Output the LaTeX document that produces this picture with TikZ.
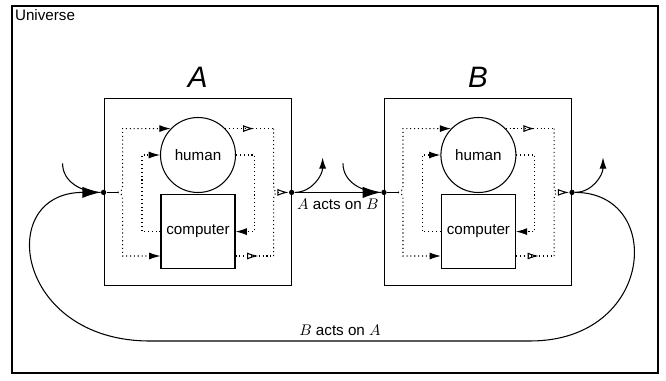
\documentclass[tikz,border=0pt]{standalone}
\usepackage{fontspec}
\setmainfont{Liberation Sans}
\usetikzlibrary{arrows.meta,decorations.markings}

\tikzset{
  every node/.append style={font=\fontsize{10.8}{13}\selectfont},
  line/.style={line width=0.75pt},
  agent/.style={draw=black, line width=0.75pt, minimum size=4.675cm, inner sep=0pt},
  person/.style={shape=circle, draw=black, line width=0.75pt, minimum size=1.875cm, inner sep=0pt},
  machine/.style={draw=black, line width=0.75pt, minimum size=1.85cm, inner sep=0pt},
  bigname/.style={font=\fontsize{21}{25}\selectfont\itshape, anchor=base, inner sep=0pt},
  dot/.style={shape=circle, fill=black, inner sep=0pt, minimum size=3.8pt},
  flow/.style={dotted, line width=0.75pt},
  tofill/.style={-{Latex[length=8pt,width=5pt]}},
  toopen/.style={-{Latex[open,length=8pt,width=5pt]}},
  midopen/.style={postaction={decorate},
    decoration={markings, mark=at position 0.6 with {\arrow{Latex[open,length=8pt,width=5pt]}}}},
  act/.style={line width=0.75pt, -{Latex[length=13pt,width=8pt]}},
  leak/.style={line width=0.75pt, -{Latex[length=8pt,width=5pt]}}
}

\begin{document}
\begin{tikzpicture}
  \useasboundingbox (0,0) rectangle (16.65,-9.525);

  % the universe
  \draw[line] (0.3,-0.15) rectangle (16.45,-9.325);
  \node[anchor=north west, inner sep=2pt] (univ) at (0.3,-0.15) {Universe};

  % the two agents
  \node[agent] (A) at (4.94,-4.81) {};
  \node[agent] (B) at (11.95,-4.81) {};
  \node[bigname] (nameA) at ([yshift=0.28cm]A.north) {A};
  \node[bigname] (nameB) at ([yshift=0.28cm]B.north) {B};

  \node[person] (hA) at (4.95,-3.875) {human};
  \node[machine] (cA) at (4.95,-5.79) {computer};
  \node[person] (hB) at (11.96,-3.875) {human};
  \node[machine] (cB) at (11.96,-5.79) {computer};

  \node[dot] (inA) at (A.west) {};
  \node[dot] (outA) at (A.east) {};
  \node[dot] (inB) at (B.west) {};
  \node[dot] (outB) at (B.east) {};

  % helper points
  \coordinate (lA) at ([xshift=0.35cm]A.west);
  \coordinate (rA) at ([xshift=-0.35cm]A.east);
  \coordinate (vA) at ([xshift=-0.1cm]rA);
  \coordinate (bA) at ([yshift=-0.61cm]cA.east);
  \coordinate (lB) at ([xshift=0.35cm]B.west);
  \coordinate (rB) at ([xshift=-0.35cm]B.east);
  \coordinate (vB) at ([xshift=-0.1cm]rB);
  \coordinate (bB) at ([yshift=-0.61cm]cB.east);

  \coordinate (feedA) at ([shift={(-1.025,0.725)}]A.west);
  \coordinate (leakA) at ([shift={(0.775,0.875)}]A.east);
  \coordinate (feedB) at ([shift={(-1.025,0.725)}]B.west);
  \coordinate (leakB) at ([shift={(0.775,0.875)}]B.east);

  %flows inside A
  \draw[line] (inA) -- (lA);
  \draw[flow,tofill] (lA) to[out=0,in=-90] ([shift={(0.125,0.15)}]lA) |- (hA.136);
  \draw[flow,tofill] (lA) to[out=0,in=90] ([shift={(0.125,-0.15)}]lA) |- ([yshift=-0.61cm]cA.west);
  \draw[flow,midopen] (hA.44) -- (hA.44 -| vA);
  \draw[flow] (hA.44 -| vA) -- ([yshift=0.15cm]vA) to[out=-90,in=180] (rA);
  \draw[flow,midopen] (bA) -- (bA -| vA);
  \draw[flow] (bA -| vA) -- ([yshift=-0.15cm]vA) to[out=90,in=180] (rA);
  \draw[flow,toopen] (rA) -- (outA);
  \draw[flow,tofill] (hA.east) -- ++(0.4625,0) |- (cA.east);
  \draw[flow,tofill] (cA.west) -- ++(-0.4625,0) |- (hA.west);

  %flows inside B
  \draw[line] (inB) -- (lB);
  \draw[flow,tofill] (lB) to[out=0,in=-90] ([shift={(0.125,0.15)}]lB) |- (hB.136);
  \draw[flow,tofill] (lB) to[out=0,in=90] ([shift={(0.125,-0.15)}]lB) |- ([yshift=-0.61cm]cB.west);
  \draw[flow,midopen] (hB.44) -- (hB.44 -| vB);
  \draw[flow] (hB.44 -| vB) -- ([yshift=0.15cm]vB) to[out=-90,in=180] (rB);
  \draw[flow,midopen] (bB) -- (bB -| vB);
  \draw[flow] (bB -| vB) -- ([yshift=-0.15cm]vB) to[out=90,in=180] (rB);
  \draw[flow,toopen] (rB) -- (outB);
  \draw[flow,tofill] (hB.east) -- ++(0.4625,0) |- (cB.east);
  \draw[flow,tofill] (cB.west) -- ++(-0.4625,0) |- (hB.west);

  %in and out of each agent
  \draw[line] (feedA) to[out=-90,in=180] (inA);
  \draw[leak] (outA) to[out=0,in=-90] (leakA);
  \draw[line] (feedB) to[out=-90,in=180] (inB);
  \draw[leak] (outB) to[out=0,in=-90] (leakB);

  % A acts on B, B acts on A
  \draw[act] (outA) -- node[below, yshift=-1pt] {$A$ acts on $B$} (inB);
  \coordinate (loopR) at (13.25,-8.525);
  \coordinate (loopL) at (3.75,-8.525);
  \draw[act] (outB) .. controls +(2.325,0) and +(3.125,0) .. (loopR)
    -- node[above] {$B$ acts on $A$} (loopL)
    .. controls +(-3.375,0) and +(-2.725,0) .. (inA);
\end{tikzpicture}
\end{document}
